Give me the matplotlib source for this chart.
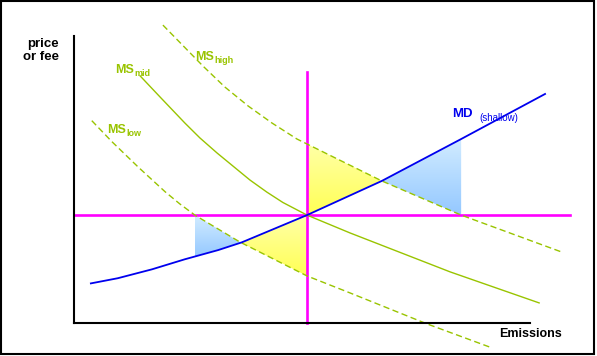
import matplotlib as mpl
mpl.use('Agg')
import matplotlib.pyplot as plt
from matplotlib.colors import LinearSegmentedColormap
from matplotlib.patches import Polygon, Rectangle
import numpy as np

plt.rcParams['font.family'] = ['Liberation Sans', 'DejaVu Sans']

# curves (emissions 0-100 along the axis, price 0-100 up the axis)
md_x = [3.7, 9.6, 17.1, 24.3, 31.6, 36.8, 51.1, 67.5, 84.9, 103.3]
md_y = [13.8, 15.6, 18.7, 22.2, 25.4, 28.1, 37.6, 49.5, 64.1, 79.8]

ms_mid_x = [14.5, 18.9, 24.3, 27.6, 31.4, 38.6, 42.3, 45.8, 51.1, 60.5, 82.5, 102.0]
ms_mid_y = [86.1, 78.7, 69.7, 64.5, 59.2, 49.8, 45.6, 42.0, 37.6, 31.4, 17.8, 7.0]

ms_high_x = [19.5, 28.3, 33.1, 38.2, 43.4, 48.9, 67.5, 84.9, 107.0]
ms_high_y = [103.8, 89.5, 82.2, 75.6, 69.7, 64.1, 49.5, 37.6, 24.7]

ms_low_x = [3.9, 8.3, 14.1, 20.0, 23.2, 26.5, 36.4, 51.1, 60.5, 77.4, 91.2]
ms_low_y = [70.5, 63.2, 54.3, 45.7, 41.5, 37.6, 28.2, 16.4, 10.5, -0.3, -8.4]

# the fee is set where MD meets the middle MS guess
fee = 37.6
e_star = 51.1
fee_line_end = 108.8
quota_line_top = 87.5

green = '#99c400'
magenta = '#ff00ff'
blue = '#0000ee'
blue_top, blue_bot = '#d2ecff', '#94c8ff'
yellow_top, yellow_bot = '#ffffa8', '#ffff55'


def crossing(xa, ya, xb, yb, lo, hi):
    xs = np.linspace(lo, hi, 2000)
    d = np.interp(xs, xa, ya) - np.interp(xs, xb, yb)
    i = np.argmin(np.abs(d))
    return xs[i]


def grad_fill(ax, x0, x1, top_x, top_y, bot_x, bot_y, c_top, c_bot):
    xs = np.linspace(x0, x1, 80)
    yt = np.interp(xs, top_x, top_y)
    yb = np.interp(xs, bot_x, bot_y)
    verts = np.column_stack([np.concatenate([xs, xs[::-1]]),
                             np.concatenate([yt, yb[::-1]])])
    poly = Polygon(verts, closed=True, facecolor='none', edgecolor='none')
    ax.add_patch(poly)
    cmap = LinearSegmentedColormap.from_list('g', [c_bot, c_top])
    grad = np.linspace(0, 1, 256).reshape(-1, 1)
    im = ax.imshow(grad, extent=[x0, x1, yb.min(), yt.max()], origin='lower',
                   aspect='auto', cmap=cmap, zorder=1, interpolation='bilinear')
    im.set_clip_path(poly)


def curve_label(ax, x, y, main, sub, color, dx):
    ax.text(x, y, main, color=color, fontsize=9, fontweight='bold', clip_on=False)
    ax.annotate(sub, xy=(x, y), xytext=(dx, -2.2), textcoords='offset points',
                color=color, fontsize=6.5, fontweight='bold', annotation_clip=False)


fig = plt.figure(figsize=(5.97, 3.56), dpi=100)
ax = fig.add_axes([74 / 597, 33 / 356, 456 / 597, 287 / 356])

x_hi_cross = np.interp(fee, ms_high_y[::-1], ms_high_x[::-1])
x_lo_cross = np.interp(fee, ms_low_y[::-1], ms_low_x[::-1])
x_md_high = crossing(md_x, md_y, ms_high_x, ms_high_y, e_star, x_hi_cross)
x_md_low = crossing(md_x, md_y, ms_low_x, ms_low_y, x_lo_cross, e_star)

# shaded welfare triangles
grad_fill(ax, e_star, x_md_high, ms_high_x, ms_high_y, md_x, md_y, yellow_top, yellow_bot)
grad_fill(ax, x_md_high, x_hi_cross, md_x, md_y, ms_high_x, ms_high_y, blue_top, blue_bot)
grad_fill(ax, x_lo_cross, x_md_low, ms_low_x, ms_low_y, md_x, md_y, blue_top, blue_bot)
grad_fill(ax, x_md_low, e_star, md_x, md_y, ms_low_x, ms_low_y, yellow_top, yellow_bot)

ax.plot([0, fee_line_end], [fee, fee], color=magenta, lw=1.9, clip_on=False, zorder=3)
ax.plot([e_star, e_star], [0, quota_line_top], color=magenta, lw=1.9, clip_on=False, zorder=3)

ax.plot(ms_mid_x, ms_mid_y, color=green, lw=1.0, clip_on=False, zorder=4)
ax.plot(ms_high_x, ms_high_y, color=green, lw=1.0, dashes=(4.5, 2.5), clip_on=False, zorder=4)
ax.plot(ms_low_x, ms_low_y, color=green, lw=1.0, dashes=(4.5, 2.5), clip_on=False, zorder=4)
ax.plot(md_x, md_y, color=blue, lw=1.3, clip_on=False, zorder=5)

ax.set_xlim(0, 100)
ax.set_ylim(0, 100)
ax.set_xticks([])
ax.set_yticks([])
for s in ['top', 'right']:
    ax.spines[s].set_visible(False)
for s in ['left', 'bottom']:
    ax.spines[s].set_linewidth(1.5)
    ax.spines[s].set_zorder(6)

curve_label(ax, 9.0, 87.1, 'MS', 'mid', green, 14)
curve_label(ax, 26.6, 91.6, 'MS', 'high', green, 14)
curve_label(ax, 7.3, 66.1, 'MS', 'low', green, 14)
ax.text(82.9, 71.8, 'MD', color=blue, fontsize=9.5, fontweight='bold', clip_on=False)
ax.text(88.9, 70.3, '(shallow)', color=blue, fontsize=7, clip_on=False)
ax.text(93.2, -4.9, 'Emissions', color='black', fontsize=9, fontweight='bold',
        clip_on=False)

fig.text(59 / 597, 1 - 38 / 356, 'price\nor fee', ha='right', va='top',
         fontsize=9.5, fontweight='bold', linespacing=1.15)

fig.add_artist(Rectangle((0.8 / 597, 2 / 356), 593.5 / 597, 353 / 356,
                         transform=fig.transFigure, fill=False, lw=1.5, ec='black'))

fig.savefig('out.png', dpi=100)
